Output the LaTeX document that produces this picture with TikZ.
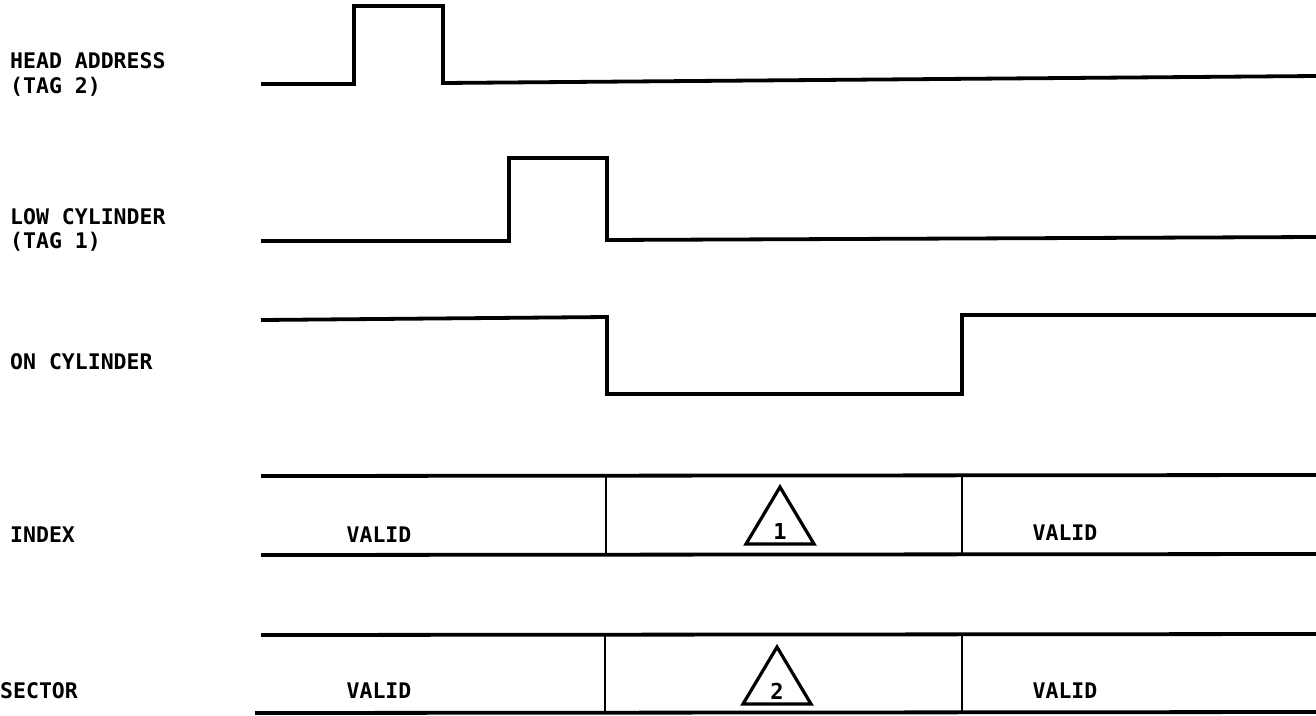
\documentclass[tikz,border=0pt]{standalone}
\usepackage{fontspec}
\setmonofont{DejaVu Sans Mono}
\tikzset{
  sig/.style={line width=3.8pt, line join=miter, line cap=butt},
  bar/.style={line width=2.2pt},
  lbl/.style={inner sep=0pt, anchor=base west, font=\fontsize{21.5}{25}\selectfont\ttfamily\bfseries},
  val/.style={inner sep=0pt, anchor=base, font=\fontsize{21.5}{25}\selectfont\ttfamily\bfseries},
  tri/.style={line width=3.2pt, line join=miter},
  num/.style={inner sep=0pt, anchor=base, font=\fontsize{22}{25}\selectfont\ttfamily\bfseries}
}
\begin{document}
\begin{tikzpicture}[x=1pt,y=-1pt]
\path[use as bounding box] (0,0) rectangle (1316,715);
% labels
\node[lbl] (ha1) at (10,68) {HEAD ADDRESS};
\node[lbl] (ha2) at (10,93) {(TAG 2)};
\node[lbl] (lc1) at (10,224) {LOW CYLINDER};
\node[lbl] (lc2) at (10,248) {(TAG 1)};
\node[lbl] (oc) at (10,369) {ON CYLINDER};
\node[lbl] (ix) at (10,542) {INDEX};
\node[lbl] (sc) at (0,698) {SECTOR};
% head address
\draw[sig] (261,84) -- (354,84) -- (354,6) -- (443,6) -- (443,83) -- (1316,76);
% low cylinder
\draw[sig] (261,241) -- (509,241) -- (509,158) -- (607,158) -- (607,240) -- (1316,237);
% on cylinder
\draw[sig] (261,320) -- (607,317) -- (607,394) -- (962,394) -- (962,315) -- (1316,315);
% index
\draw[sig] (261,476) -- (1316,475);
\draw[sig] (261,555) -- (1316,554);
\draw[bar] (606,476) -- (606,555);
\draw[bar] (962,475) -- (962,554);
\node[val] (iv1) at (379,542) {VALID};
\node[val] (iv2) at (1065,540) {VALID};
\coordinate (t1a) at (780,487);
\coordinate (t1b) at (746,544);
\coordinate (t1c) at (814,544);
\draw[tri] (t1a) -- (t1b) -- (t1c) -- cycle;
\node[num] (n1) at (780,539) {1};
% sector
\draw[sig] (261,635) -- (1316,634);
\draw[sig] (255,713) -- (1316,712);
\draw[bar] (605,635) -- (605,713);
\draw[bar] (962,634) -- (962,712);
\node[val] (sv1) at (379,698) {VALID};
\node[val] (sv2) at (1065,698) {VALID};
\coordinate (t2a) at (777,647);
\coordinate (t2b) at (743,704);
\coordinate (t2c) at (811,704);
\draw[tri] (t2a) -- (t2b) -- (t2c) -- cycle;
\node[num] (n2) at (777,699) {2};
\end{tikzpicture}
\end{document}
